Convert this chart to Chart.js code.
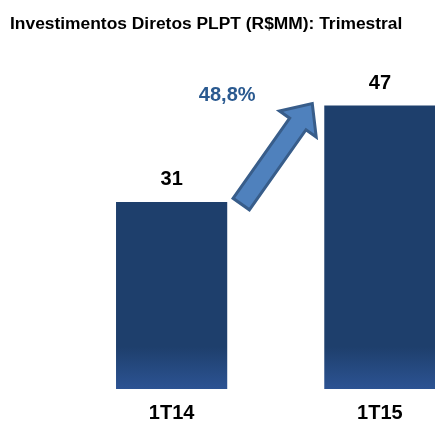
<!DOCTYPE html>
<html>
<head>
<meta charset="utf-8">
<script src="https://cdn.jsdelivr.net/npm/chart.js@4.4.1/dist/chart.umd.min.js"></script>
<style>
  html, body { margin: 0; padding: 0; background: #ffffff; overflow: hidden; }
  #wrap { width: 484px; height: 424px; }
</style>
</head>
<body>
<div id="wrap"><canvas id="c" width="484" height="424"></canvas></div>
<script>
const categories = ['1T14', '1T15'];
const values = [31, 47];
const growthLabel = '48,8%';
const titleText = 'Investimentos Diretos PLPT (R$MM): Trimestral';

const labelsPlugin = {
  id: 'labelsAndArrow',
  afterDatasetsDraw(chart) {
    const ctx = chart.ctx;
    const bars = chart.getDatasetMeta(0).data;
    ctx.save();
    // value labels
    ctx.font = 'bold 20px "Liberation Sans", Arial, sans-serif';
    ctx.fillStyle = '#000000';
    ctx.textAlign = 'center';
    ctx.textBaseline = 'alphabetic';
    bars.forEach((b, i) => {
      ctx.fillText(String(values[i]), b.x, b.y - 17);
    });
    // arrow between bars
    const b1 = bars[0], b2 = bars[1];
    const r1 = b1.x + b1.width / 2, l2 = b2.x - b2.width / 2;
    const tx = r1 + 14, ty = b1.y + 2;
    const hx = l2 - 12, hy = b2.y - 2;
    const dx = hx - tx, dy = hy - ty, len = Math.hypot(dx, dy);
    const ux = dx / len, uy = dy / len, nx = -uy, ny = ux;
    const sw = 20, hw = 45, hl = 25;
    const neckX = hx - ux * hl, neckY = hy - uy * hl;
    ctx.beginPath();
    ctx.moveTo(tx + nx * sw / 2, ty + ny * sw / 2);
    ctx.lineTo(neckX + nx * sw / 2, neckY + ny * sw / 2);
    ctx.lineTo(neckX + nx * hw / 2, neckY + ny * hw / 2);
    ctx.lineTo(hx, hy);
    ctx.lineTo(neckX - nx * hw / 2, neckY - ny * hw / 2);
    ctx.lineTo(neckX - nx * sw / 2, neckY - ny * sw / 2);
    ctx.lineTo(tx - nx * sw / 2, ty - ny * sw / 2);
    ctx.closePath();
    ctx.fillStyle = '#4F81BD';
    ctx.fill();
    ctx.lineWidth = 3;
    ctx.lineJoin = 'miter';
    ctx.strokeStyle = '#385D8A';
    ctx.stroke();
    // growth label
    ctx.font = 'bold 20px "Liberation Sans", Arial, sans-serif';
    ctx.fillStyle = '#2B5A90';
    ctx.textAlign = 'center';
    ctx.fillText(growthLabel, r1, b2.y - 5);
    ctx.restore();
  }
};

new Chart(document.getElementById('c'), {
  type: 'bar',
  data: {
    labels: categories,
    datasets: [{
      data: values,
      backgroundColor(context) {
        const chart = context.chart;
        const area = chart.chartArea;
        if (!area) return '#1E3F6C';
        const g = chart.ctx.createLinearGradient(0, area.top, 0, area.bottom);
        g.addColorStop(0, '#1E3F6C');
        g.addColorStop(0.86, '#1E3F6C');
        g.addColorStop(1, '#2C5393');
        return g;
      },
      borderWidth: 0,
      categoryPercentage: 1,
      barPercentage: 0.534
    }]
  },
  options: {
    responsive: false,
    animation: false,
    devicePixelRatio: 1,
    layout: { padding: { left: 10, right: 0, top: 0, bottom: 0 } },
    plugins: {
      legend: { display: false },
      tooltip: { enabled: false },
      title: {
        display: true,
        text: titleText,
        align: 'start',
        color: '#000000',
        font: { family: '"Liberation Sans", Arial, sans-serif', size: 17.4, weight: 'bold' },
        padding: { top: 13.5, bottom: 53.1 }
      }
    },
    scales: {
      x: {
        grid: { display: false, drawTicks: false },
        border: { display: false },
        ticks: {
          color: '#000000',
          padding: 12,
          font: { family: '"Liberation Sans", Arial, sans-serif', size: 20, weight: 'bold' }
        },
        afterFit(scale) { scale.height = 35; }
      },
      y: {
        min: 0,
        max: 50,
        grid: { display: false, drawTicks: false },
        border: { display: false },
        ticks: { display: false },
        afterFit(scale) { scale.width = 57.5; }
      }
    }
  },
  plugins: [labelsPlugin]
});
</script>
</body>
</html>
